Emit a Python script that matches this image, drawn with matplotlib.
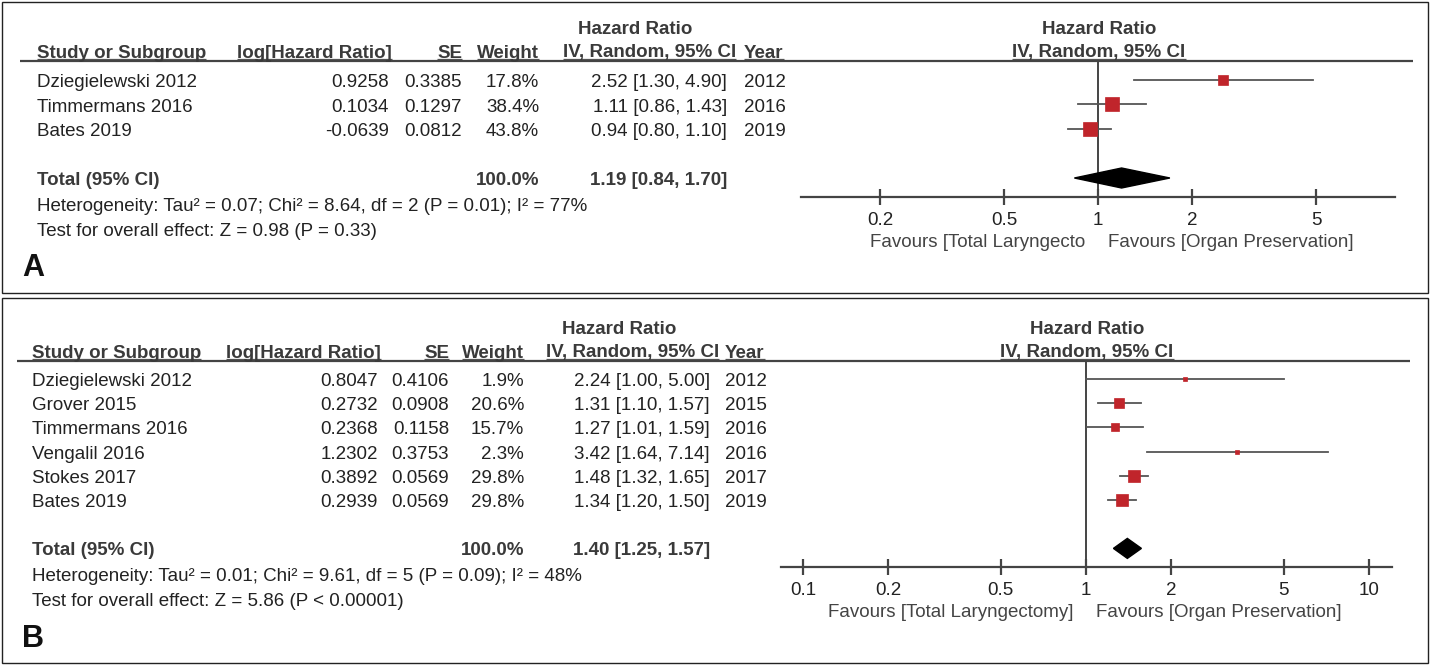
import numpy as np
import matplotlib.pyplot as plt
from matplotlib.patches import Rectangle, Polygon

plt.rcParams['font.family'] = ['Liberation Sans', 'DejaVu Sans']

# ---- data, panel A ----
studies_a = ["Dziegielewski 2012", "Timmermans 2016", "Bates 2019"]
loghr_a = ["0.9258", "0.1034", "-0.0639"]
se_a = ["0.3385", "0.1297", "0.0812"]
weight_a = [17.8, 38.4, 43.8]
hr_a = [2.52, 1.11, 0.94]
lo_a = [1.30, 0.86, 0.80]
hi_a = [4.90, 1.43, 1.10]
year_a = ["2012", "2016", "2019"]
total_a = (1.19, 0.84, 1.70)
het_a = "Heterogeneity: Tau² = 0.07; Chi² = 8.64, df = 2 (P = 0.01); I² = 77%"
test_a = "Test for overall effect: Z = 0.98 (P = 0.33)"
ticks_a = [0.2, 0.5, 1, 2, 5]
fav_left_a = "Favours [Total Laryngecto"

# ---- data, panel B ----
studies_b = ["Dziegielewski 2012", "Grover 2015", "Timmermans 2016",
             "Vengalil 2016", "Stokes 2017", "Bates 2019"]
loghr_b = ["0.8047", "0.2732", "0.2368", "1.2302", "0.3892", "0.2939"]
se_b = ["0.4106", "0.0908", "0.1158", "0.3753", "0.0569", "0.0569"]
weight_b = [1.9, 20.6, 15.7, 2.3, 29.8, 29.8]
hr_b = [2.24, 1.31, 1.27, 3.42, 1.48, 1.34]
lo_b = [1.00, 1.10, 1.01, 1.64, 1.32, 1.20]
hi_b = [5.00, 1.57, 1.59, 7.14, 1.65, 1.50]
year_b = ["2012", "2015", "2016", "2016", "2017", "2019"]
total_b = (1.40, 1.25, 1.57)
het_b = "Heterogeneity: Tau² = 0.01; Chi² = 9.61, df = 5 (P = 0.09); I² = 48%"
test_b = "Test for overall effect: Z = 5.86 (P < 0.00001)"
ticks_b = [0.1, 0.2, 0.5, 1, 2, 5, 10]
fav_left_b = "Favours [Total Laryngectomy]"
fav_right = "Favours [Organ Preservation]"
total_weight = "100.0%"

W, H = 1431, 666
fig = plt.figure(figsize=(W / 100, H / 100), dpi=100)
bg = fig.add_axes([0, 0, 1, 1])
bg.set_xlim(0, W)
bg.set_ylim(H, 0)
bg.axis('off')
renderer = fig.canvas.get_renderer()

FS = 13.5
TXT = '#222222'
HDR = '#3a3a3a'
GRAY = '#555555'
RED = '#c0252b'


def panel(box, studies, loghr, se, weight, hr, lo, hi, year, total, het, test,
          ticks, fav_left, label, L):
    # border
    bg.add_patch(Rectangle((box[0], box[1]), box[2] - box[0], box[3] - box[1],
                           fill=False, ec='#222222', lw=1.0))
    n = len(studies)
    y0, step = L['row0'], L['step']
    ys = [y0 + i * step for i in range(n)]
    ytot = y0 + (n + 1) * step

    # headers
    hy = L['line'] - 3
    bg.text(L['hr_c'], hy - 24, "Hazard Ratio", ha='center', va='baseline',
            fontsize=FS, weight='bold', color=HDR)
    bg.text(L['fp_c'], hy - 24, "Hazard Ratio", ha='center', va='baseline',
            fontsize=FS, weight='bold', color=HDR)
    heads = [("Study or Subgroup", L['name'], 'left'),
             ("log[Hazard Ratio]", L['lhr'] + 3, 'right'),
             ("SE", L['se'], 'right'),
             ("Weight", L['w'], 'right'),
             ("IV, Random, 95% CI", L['ci'] + 9, 'right'),
             ("Year", L['yr'], 'left'),
             ("IV, Random, 95% CI", L['fp_c'], 'center')]
    inv = bg.transData.inverted()
    for t, x, ha in heads:
        tx = bg.text(x, hy, t, ha=ha, va='baseline', fontsize=FS, weight='bold',
                     color=HDR)
        bb = tx.get_window_extent(renderer)
        (xa, _), (xb, _) = inv.transform([(bb.x0, bb.y0), (bb.x1, bb.y0)])
        bg.plot([xa, xb], [L['line'] - 2, L['line'] - 2], color='#555555', lw=0.9,
                solid_capstyle='butt')
    bg.plot([L['lx0'], L['lx1']], [L['line'], L['line']], color='#444444', lw=1.6,
            solid_capstyle='butt')

    # rows
    for i in range(n):
        y = ys[i] + 7
        bg.text(L['name'], y, studies[i], ha='left', va='baseline', fontsize=FS, color=TXT)
        bg.text(L['lhr'], y, loghr[i], ha='right', va='baseline', fontsize=FS, color=TXT)
        bg.text(L['se'], y, se[i], ha='right', va='baseline', fontsize=FS, color=TXT)
        bg.text(L['w'], y, f"{weight[i]:.1f}%", ha='right', va='baseline', fontsize=FS, color=TXT)
        bg.text(L['ci'], y, f"{hr[i]:.2f} [{lo[i]:.2f}, {hi[i]:.2f}]", ha='right',
                va='baseline', fontsize=FS, color=TXT)
        bg.text(L['yr'], y, year[i], ha='left', va='baseline', fontsize=FS, color=TXT)

    yt = ytot + 7
    bg.text(L['name'], yt, "Total (95% CI)", ha='left', va='baseline', fontsize=FS,
            weight='bold', color=HDR)
    bg.text(L['w'], yt, total_weight, ha='right', va='baseline', fontsize=FS,
            weight='bold', color=HDR)
    bg.text(L['ci'], yt, f"{total[0]:.2f} [{total[1]:.2f}, {total[2]:.2f}]", ha='right',
            va='baseline', fontsize=FS, weight='bold', color=HDR)
    bg.text(L['name'], yt + 26, het, ha='left', va='baseline', fontsize=FS, color=TXT)
    bg.text(L['name'], yt + 51, test, ha='left', va='baseline', fontsize=FS, color=TXT)
    bg.text(L['lab_x'], L['lab_y'], label, ha='left', va='baseline', fontsize=22,
            weight='bold', color='#111111')

    # forest axes, placed in pixel coords
    ax0, ax1 = L['ax0'], L['ax1']
    top, bot = L['line'], L['axis']
    ax = fig.add_axes([ax0 / W, 1 - bot / H, (ax1 - ax0) / W, (bot - top) / H])
    ax.set_xscale('log')
    ppd = L['ppd']
    ax.set_xlim(10 ** ((ax0 - L['one']) / ppd), 10 ** ((ax1 - L['one']) / ppd))
    ax.set_ylim(bot, top)
    ax.patch.set_alpha(0)
    for s in ['top', 'right', 'left']:
        ax.spines[s].set_visible(False)
    ax.spines['bottom'].set_color('#444444')
    ax.spines['bottom'].set_linewidth(1.6)
    ax.set_yticks([])
    ax.set_xticks(ticks)
    ax.set_xticklabels([f"{t:g}" for t in ticks])
    ax.xaxis.set_minor_locator(plt.NullLocator())
    ax.tick_params(axis='x', direction='inout', length=12, width=1.6, color='#444444',
                   labelsize=FS, labelcolor=TXT, pad=5)
    ax.axvline(1, color='#444444', lw=1.4)
    for i in range(n):
        ax.plot([lo[i], hi[i]], [ys[i], ys[i]], color=GRAY, lw=1.3, zorder=2)
        side = 2.2 * np.sqrt(weight[i])
        ax.plot(hr[i], ys[i], marker='s', ms=side * 0.72, mfc=RED, mec=RED,
                mew=0.5, zorder=3)
    dh = 10
    ax.add_patch(Polygon([(total[1], ytot), (total[0], ytot - dh), (total[2], ytot),
                          (total[0], ytot + dh)], closed=True, fc='black', ec='black',
                         zorder=3))
    fy = L['axis'] + 50
    bg.text(L['one'] - 13, fy, fav_left, ha='right', va='baseline', fontsize=FS,
            color='#444444')
    bg.text(L['one'] + 10, fy, fav_right, ha='left', va='baseline', fontsize=FS,
            color='#444444')


LA = dict(row0=80, step=24.5, line=60.5, name=37, lhr=389, se=462, w=539, ci=727,
          yr=744, hr_c=635, fp_c=1099, lx0=20, lx1=1413, lab_x=22, lab_y=276,
          ax0=801, ax1=1395, one=1098, ppd=312, axis=197)
LB = dict(row0=379, step=24.2, line=360.5, name=32, lhr=378, se=449, w=524, ci=710,
          yr=725, hr_c=619, fp_c=1087, lx0=17, lx1=1410, lab_x=22, lab_y=647,
          ax0=781, ax1=1392, one=1086, ppd=283, axis=567)

panel((2, 2, 1428, 293), studies_a, loghr_a, se_a, weight_a, hr_a, lo_a, hi_a, year_a,
      total_a, het_a, test_a, ticks_a, fav_left_a, "A", LA)
panel((2, 298, 1428, 663), studies_b, loghr_b, se_b, weight_b, hr_b, lo_b, hi_b, year_b,
      total_b, het_b, test_b, ticks_b, fav_left_b, "B", LB)

plt.savefig("out.png", dpi=100)
